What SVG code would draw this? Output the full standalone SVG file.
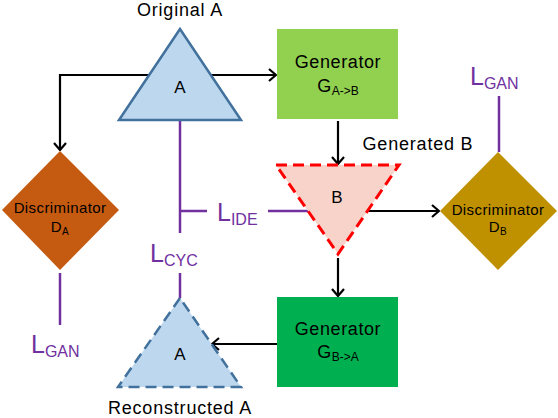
<svg xmlns="http://www.w3.org/2000/svg" width="558" height="418" viewBox="0 0 558 418">
<defs>
<style>
text{font-family:"Liberation Sans",Arial,sans-serif;fill:#000}
.lbl{font-size:18px;letter-spacing:0.8px;text-anchor:middle}
.gen{font-size:18px;letter-spacing:0.6px;text-anchor:middle}
.dis{font-size:15px;letter-spacing:0.4px;text-anchor:middle}
.tri{font-size:17px;text-anchor:middle}
.loss{fill:#7030A0}
.arrow{stroke:#000;stroke-width:2.2;fill:none;marker-end:url(#ah)}
.pl{stroke:#7030A0;stroke-width:2.5;fill:none}
.triA{fill:#BDD7EE;stroke:#41719C;stroke-width:2.5}
</style>
<marker id="ah" markerUnits="userSpaceOnUse" viewBox="-9 -8 10 16" markerWidth="10" markerHeight="16" refX="0" refY="0" orient="auto">
<path d="M-7,-6 L0,0 L-7,6" fill="none" stroke="#000" stroke-width="2.2"/>
</marker>
</defs>
<g id="connectors">
<path class="arrow" d="M211,75 H276"/>
<path class="arrow" d="M149,75 H60 V150"/>
<path class="arrow" d="M338,121 V164"/>
<path class="arrow" d="M367,211 H439"/>
<path class="arrow" d="M338,258 V296"/>
<path class="arrow" d="M277,344 H212"/>
<path class="pl" d="M180,121 V233 M180,211 H207 M268,211 H308"/>
<path class="pl" d="M180,273 V298"/>
<path class="pl" d="M499,96 V152"/>
<path class="pl" d="M60,273 V325"/>
</g>
<g id="original-a">
<polygon class="triA" points="180,29 119,120 241,120"/>
<text class="tri" x="180" y="93">A</text>
<text class="lbl" x="180" y="16">Original A</text>
</g>
<g id="generator-ab">
<rect x="277" y="29" width="121" height="90" fill="#92D050"/>
<text class="gen" x="338" y="68">Generator</text>
<text class="gen" x="338" y="92">G<tspan font-size="12" letter-spacing="0" dy="3">A-&gt;B</tspan></text>
</g>
<g id="generated-b">
<polygon points="276,165 399,165 338,254" fill="#F8D3C9" stroke="#FF0000" stroke-width="3" stroke-dasharray="11,6"/>
<text class="tri" x="337" y="203">B</text>
<text class="lbl" x="418" y="150">Generated B</text>
</g>
<g id="discriminator-b">
<polygon points="498,152 557,211 498,270 440,211" fill="#BF9000"/>
<text class="dis" x="498" y="215">Discriminator</text>
<text class="dis" x="498" y="232">D<tspan font-size="10" dy="3">B</tspan></text>
</g>
<g id="discriminator-a">
<polygon points="60,151 119,210 60,270 2,210" fill="#C55A11"/>
<text class="dis" x="60" y="213">Discriminator</text>
<text class="dis" x="60" y="232">D<tspan font-size="10" dy="3">A</tspan></text>
</g>
<g id="generator-ba">
<rect x="277" y="297" width="121" height="90" fill="#00B050"/>
<text class="gen" x="338" y="335">Generator</text>
<text class="gen" x="338" y="358">G<tspan font-size="12" letter-spacing="0" dy="3">B-&gt;A</tspan></text>
</g>
<g id="reconstructed-a">
<polygon class="triA" points="180,298 118,387 241,387" stroke-dasharray="11,6"/>
<text class="tri" x="180" y="360">A</text>
<text class="lbl" x="180" y="414">Reconstructed A</text>
</g>
<g id="losses">
<text class="loss" x="470" y="85" font-size="25">L<tspan font-size="16" dy="4">GAN</tspan></text>
<text class="loss" x="217" y="221" font-size="25">L<tspan font-size="16" dy="4">IDE</tspan></text>
<text class="loss" x="150" y="262" font-size="25">L<tspan font-size="16" dy="4">CYC</tspan></text>
<text class="loss" x="31" y="353" font-size="25">L<tspan font-size="16" dy="4">GAN</tspan></text>
</g>
</svg>
